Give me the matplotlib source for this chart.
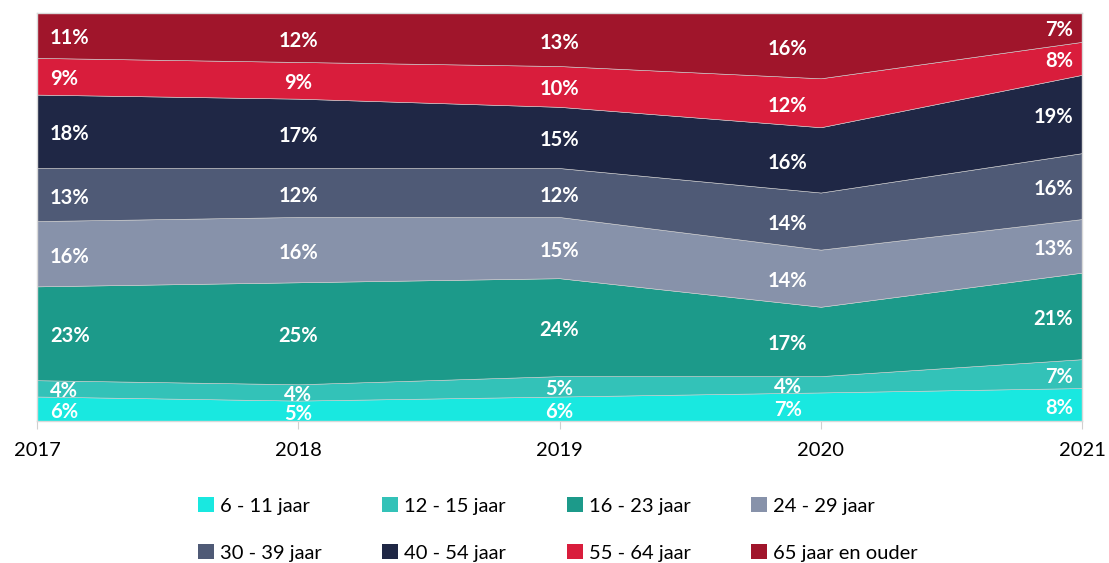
import numpy as np
import matplotlib.pyplot as plt
from matplotlib.patches import Patch

plt.rcParams["font.family"] = ["Lato", "DejaVu Sans"]

YEARS = [2017, 2018, 2019, 2020, 2021]

GROUPS = [
    "6 - 11 jaar",
    "12 - 15 jaar",
    "16 - 23 jaar",
    "24 - 29 jaar",
    "30 - 39 jaar",
    "40 - 54 jaar",
    "55 - 64 jaar",
    "65 jaar en ouder",
]

COLORS = [
    "#19E8E0",
    "#33C2B8",
    "#1C9A8A",
    "#8792AA",
    "#4F5A76",
    "#1F2745",
    "#D91D3C",
    "#A0152B",
]

# percentages per group, per year
age_6_11 = [6, 5, 6, 7, 8]
age_12_15 = [4, 4, 5, 4, 7]
age_16_23 = [23, 25, 24, 17, 21]
age_24_29 = [16, 16, 15, 14, 13]
age_30_39 = [13, 12, 12, 14, 16]
age_40_54 = [18, 17, 15, 16, 19]
age_55_64 = [9, 9, 10, 12, 8]
age_65_up = [11, 12, 13, 16, 7]


def main():
    raw = np.array([age_6_11, age_12_15, age_16_23, age_24_29,
                    age_30_39, age_40_54, age_55_64, age_65_up], dtype=float)
    shares = raw / raw.sum(axis=0) * 100
    x = np.arange(len(YEARS))

    fig = plt.figure(figsize=(11.09, 5.63), dpi=100)
    ax = fig.add_axes([37 / 1109, 1 - 421 / 563, (1082 - 37) / 1109, (421 - 13) / 563])

    ax.stackplot(x, shares, colors=COLORS, linewidth=0.4, edgecolor="#d0d0d0")

    # label offsets in pixels per year (like Excel puts them)
    offsets = [(13, "left"), (0, "center"), (0, "center"), (-33, "center"), (-9, "right")]
    cum = np.cumsum(shares, axis=0)
    for i in range(len(GROUPS)):
        for j in range(len(YEARS)):
            mid = cum[i, j] - shares[i, j] / 2
            dx, ha = offsets[j]
            ax.annotate(f"{raw[i, j]:.0f}%", (x[j], mid), xytext=(dx * 0.72, -2.2),
                        textcoords="offset points", ha=ha, va="center",
                        color="white", fontsize=14.5, fontweight="bold")

    ax.set_xlim(0, len(YEARS) - 1)
    ax.set_ylim(0, 100)
    ax.set_xticks(x)
    ax.set_xticklabels([str(y) for y in YEARS], fontsize=14.5)
    ax.set_yticks([])
    ax.tick_params(axis="x", length=6, color="#d0d0d0", pad=9)
    for spine in ax.spines.values():
        spine.set_color("#d9d9d9")
        spine.set_linewidth(1.0)

    handles = [Patch(facecolor=c, edgecolor="none") for c in COLORS]
    order = [0, 4, 1, 5, 2, 6, 3, 7]
    fig.legend(
        [handles[k] for k in order],
        [GROUPS[k] for k in order],
        ncol=4,
        loc="center",
        bbox_to_anchor=(0.503, 0.06),
        frameon=False,
        fontsize=14.5,
        handlelength=0.8,
        handleheight=0.8,
        handletextpad=0.3,
        columnspacing=3.0,
        labelspacing=1.45,
    )

    fig.savefig("out.png", dpi=100)
    plt.close(fig)


if __name__ == "__main__":
    main()
